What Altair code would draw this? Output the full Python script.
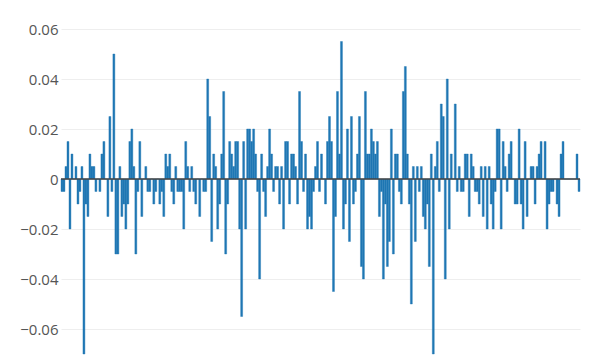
import altair as alt
import pandas as pd

returns = [
    # 0-39
    -0.005, -0.005, 0.005, 0.015, -0.02, 0.01, 0, 0.005, -0.01, -0.005,
    0.005, -0.07, -0.01, -0.015, 0.01, 0.005, 0.005, -0.005, 0, -0.005,
    0.01, 0.015, 0, -0.015, 0.025, -0.005, 0.05, -0.03, -0.03, 0.005,
    -0.015, -0.01, -0.02, -0.01, 0.015, 0.02, 0.005, -0.03, -0.005, 0.015,
    # 40-84
    -0.015, 0, 0.005, -0.005, -0.005, 0, -0.01, -0.005, 0, -0.01,
    -0.005, -0.015, 0.01, 0.005, 0.01, -0.005, -0.01, 0.005, -0.005, -0.005,
    -0.005, -0.02, 0.015, 0.005, -0.005, 0.005, -0.005, -0.01, 0, -0.015,
    0, -0.005, -0.005, 0.04, 0.025, -0.025, 0.01, 0.005, -0.02, -0.01,
    0.01, 0.035, -0.03, -0.01, 0.015,
    # 85-126
    0.01, 0.005, 0.015, 0.015, -0.02, -0.055, 0.015, -0.02, 0.02, 0.02,
    0.015, 0.02, 0.01, -0.005, -0.04, 0.01, -0.005, -0.015, 0.005, 0.02,
    0.01, -0.005, 0.005, 0.005, -0.01, 0.005, -0.02, 0.015, 0.015, -0.01,
    0.01, 0.01, 0.005, -0.01, 0.035, 0.015, -0.005, 0.01, -0.02, -0.015,
    -0.02, -0.005,
    # 127-170
    0.005, 0.015, -0.005, 0.01, 0, -0.01, 0.015, 0.025, 0.015, -0.045,
    -0.015, 0.035, 0.01, 0.055, -0.02, -0.01, 0.02, -0.025, 0.025, -0.01,
    -0.005, 0.01, 0.025, -0.035, -0.04, 0.035, 0.01, 0.01, 0.02, 0.015,
    0.01, 0.015, -0.015, -0.005, -0.04, -0.01, -0.035, -0.025, 0.02, -0.03,
    0.01, 0.01, -0.005, -0.01,
    # 171-209
    0.035, 0.045, 0.01, -0.01, -0.05, 0.005, -0.025, 0.005, -0.005, 0.005,
    -0.015, -0.02, -0.01, -0.035, 0.01, -0.07, 0.005, 0.015, -0.005, 0.03,
    0.025, -0.04, 0.04, -0.02, 0.01, 0, 0.03, -0.005, 0.005, -0.005,
    -0.005, 0.01, 0.01, -0.015, 0.01, 0.005, -0.005, -0.005, -0.01,
    # 210-259
    0.005, -0.015, 0.005, -0.02, 0.005, -0.01, -0.02, -0.005, 0.02, 0.02,
    -0.02, 0.015, 0.005, -0.005, 0.01, 0.015, 0, -0.01, -0.01, 0.02,
    -0.01, -0.02, 0.015, -0.015, 0, 0.005, 0.005, -0.01, 0.005, 0.01,
    0.015, 0, 0.015, -0.02, -0.01, -0.005, -0.005, 0, -0.01, -0.015,
    0.01, 0.015, 0, 0, 0, 0, 0, 0, 0.01, -0.005,
]

y_ticks = [-0.06, -0.04, -0.02, 0, 0.02, 0.04, 0.06]

df = pd.DataFrame({"i": list(range(len(returns))), "r": returns})

base = alt.Chart(df)

bars = base.mark_bar(color="#1f77b4", stroke="#1f77b4", strokeWidth=0.4).encode(
    x=alt.X("i:O", axis=None, scale=alt.Scale(paddingInner=0.02, paddingOuter=0)),
    y=alt.Y(
        "r:Q",
        scale=alt.Scale(domain=[-0.07, 0.06], nice=False, zero=False),
        axis=alt.Axis(
            values=y_ticks,
            format="~g",
            title=None,
            domain=False,
            ticks=False,
            labelPadding=3,
            labelFontSize=15,
            labelFont="Open Sans",
            labelColor="#555555",
            gridColor="#eeeeee",
            gridWidth=1,
        ),
    ),
)

zero_df = pd.DataFrame({"z": [0]})
zero = alt.Chart(zero_df).mark_rule(color="#444444", strokeWidth=1.5).encode(
    y=alt.Y("z:Q")
)

chart = (
    alt.layer(bars, zero)
    .properties(
        width=519,
        height=325,
        autosize=alt.AutoSizeParams(type="none"),
        padding={"left": 61, "top": 29, "right": 20, "bottom": 6},
        background="white",
    )
    .configure_view(stroke=None)
)

chart.save("out.html", embed_options={"renderer": "svg", "actions": False})
